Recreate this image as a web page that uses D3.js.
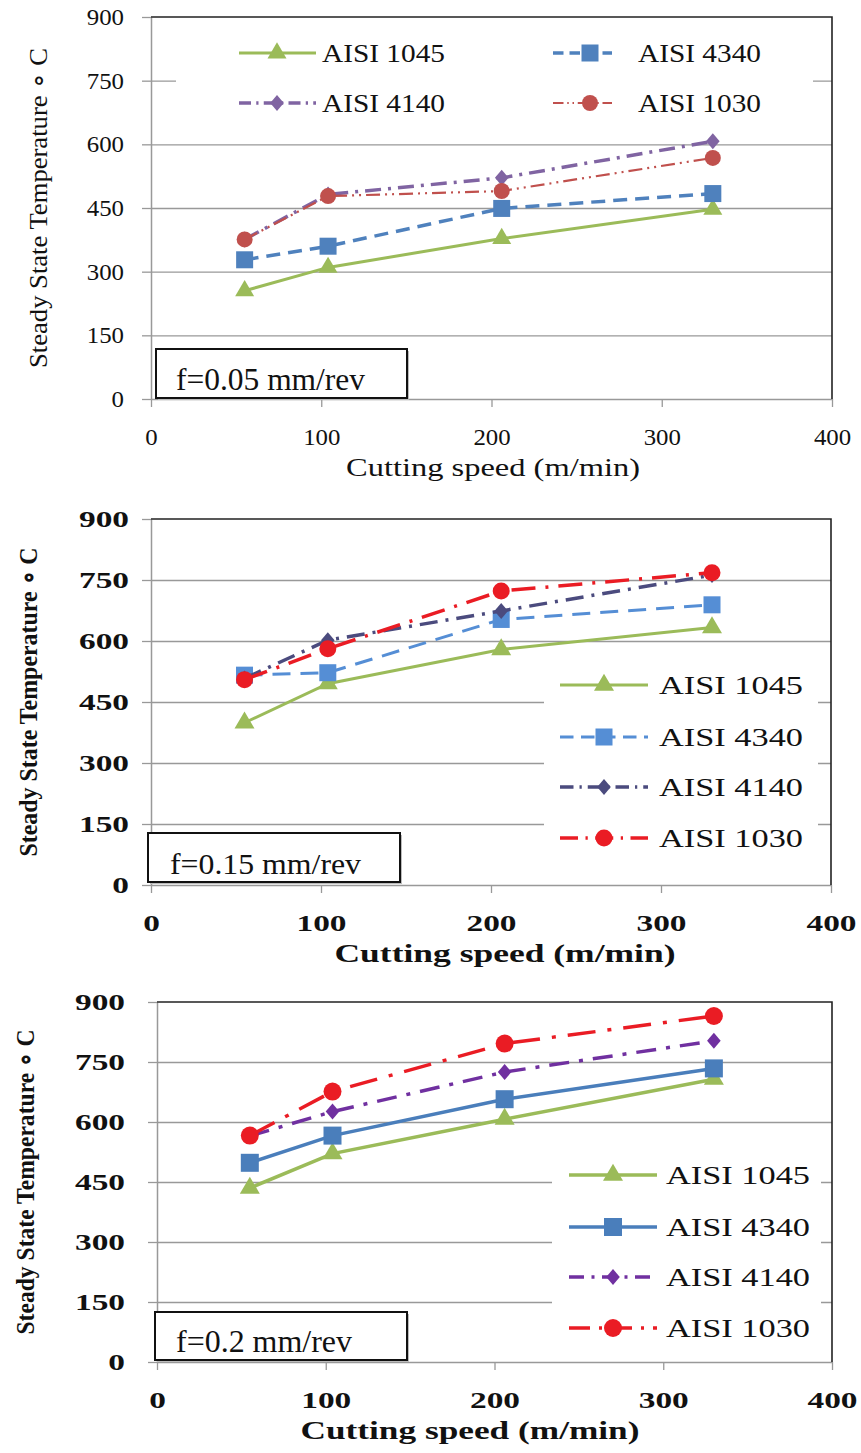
<!DOCTYPE html>
<html lang="en">
<head>
<meta charset="utf-8">
<script src="https://d3js.org/d3.v7.min.js"></script>
<style>
  body { margin: 0; background: #fff; }
  svg text { font-family: "Liberation Serif", "Times New Roman", serif; fill: #111; }
</style>
</head>
<body>
<div id="chart"></div>
<script>
// cutting speeds (m/min) where the temperatures were measured
var speeds = [55, 104, 206, 330];
var grades = ["AISI 1045", "AISI 4340", "AISI 4140", "AISI 1030"];
var xTicks = [0, 100, 200, 300, 400];
var yTicks = [0, 150, 300, 450, 600, 750, 900];
var feeds = ["f=0.05 mm/rev", "f=0.15 mm/rev", "f=0.2 mm/rev"];
var yTitle = "Steady State Temperature \u2218 C";
var xTitle = "Cutting speed (m/min)";

// steady state temperature, one row per grade (same order as grades)
var tempF005 = [
  [255, 310, 378, 447],
  [328, 360, 449, 484],
  [376, 482, 521, 607],
  [376, 478, 490, 568]
];
var tempF015 = [
  [399, 495, 579, 633],
  [516, 522, 653, 689],
  [508, 602, 674, 762],
  [505, 581, 723, 768]
];
var tempF02 = [
  [435, 521, 607, 707],
  [498, 566, 657, 734],
  [565, 626, 725, 803],
  [566, 676, 796, 865]
];

var symbols = ["triangle", "square", "diamond", "circle"];

var panels = [
  {
    data: tempF005, feed: feeds[0],
    left: 151, right: 832, top: 17, bottom: 399, sx: 1.08, weight: "normal",
    yLabelX: 124, yTitleX: 38, yTitleW: 320, xTitleX: 493, xTitleW: 294,
    colors: ["#9bbb59", "#4f81bd", "#8064a2", "#c0504d"],
    dashes: [null, "14,8", "16,7,3,7", "14,5,2,5,2,5"],
    widths: [3, 3.5, 3.5, 2.2],
    msize: [9.5, 8.5, 8, 8],
    legend: { bg: [176, 30, 637, 95], rows: [53, 103], textW: 123, fs: 26,
      cols: [{x0: 239, x1: 316, mx: 277, tx: 322}, {x0: 553, x1: 612, mx: 590, tx: 638}],
      grid: true },
    note: { box: [156, 349, 251, 49], tx: 176, ty: 390, tw: 189, fs: 32 }
  },
  {
    data: tempF015, feed: feeds[1],
    left: 151, right: 831, top: 519, bottom: 885, sx: 1.45, weight: "bold",
    yLabelX: 129, yTitleX: 28, yTitleW: 309, xTitleX: 505, xTitleW: 341,
    colors: ["#9bbb59", "#558ed5", "#4b4b7e", "#ea1c24"],
    dashes: [null, "18,10", "18,8,3,8", "24,10,3,10"],
    widths: [3, 3, 3.5, 3.5],
    msize: [10, 8.5, 8, 8.5],
    legend: { bg: [544, 662, 274, 200], rows: [685, 737, 787, 838], textW: 144, fs: 26,
      cols: [{x0: 560, x1: 648, mx: 604, tx: 659}], grid: false },
    note: { box: [148, 833, 252, 49], tx: 170, ty: 874, tw: 191, fs: 30 }
  },
  {
    data: tempF02, feed: feeds[2],
    left: 157, right: 832, top: 1002, bottom: 1362, sx: 1.45, weight: "bold",
    yLabelX: 125, yTitleX: 25, yTitleW: 305, xTitleX: 470, xTitleW: 339,
    colors: ["#9bbb59", "#4a7ebb", "#7030a0", "#ea1c24"],
    dashes: [null, null, "20,10,4,10", "28,12,4,12"],
    widths: [3.5, 3.5, 3.5, 3.5],
    msize: [10, 9, 8, 9],
    legend: { bg: [552, 1152, 269, 200], rows: [1175, 1227, 1277, 1328], textW: 144, fs: 26,
      cols: [{x0: 569, x1: 657, mx: 613, tx: 666}], grid: false },
    note: { box: [155, 1312, 252, 48], tx: 176, ty: 1352, tw: 176, fs: 32 }
  }
];

var svg = d3.select("#chart").append("svg")
  .attr("width", 861)
  .attr("height", 1453)
  .style("background", "#fff");

function stretch(sel, k) {
  sel.each(function() {
    var w = this.getComputedTextLength();
    d3.select(this).attr("textLength", w * k).attr("lengthAdjust", "spacingAndGlyphs");
  });
}

function drawMarker(g, type, s, color) {
  if (type === "diamond") {
    g.append("path")
      .attr("d", "M0," + (-s) + "L" + (s * 0.85) + ",0L0," + s + "L" + (-s * 0.85) + ",0Z")
      .attr("fill", color);
  } else if (type === "circle") {
    g.append("circle").attr("r", s).attr("fill", color);
  } else if (type === "square") {
    g.append("rect").attr("x", -s).attr("y", -s).attr("width", 2 * s).attr("height", 2 * s)
      .attr("fill", color);
  } else {
    // triangle, centred on its centroid
    var h = s * 1.7;
    g.append("path")
      .attr("d", "M0," + (-h * 2 / 3) + "L" + s + "," + (h / 3) + "L" + (-s) + "," + (h / 3) + "Z")
      .attr("fill", color);
  }
}

panels.forEach(function(p) {
  var x = d3.scaleLinear().domain([0, 400]).range([p.left, p.right]);
  var y = d3.scaleLinear().domain([0, 900]).range([p.bottom, p.top]);
  var g = svg.append("g");

  // horizontal gridlines
  g.append("g")
    .attr("transform", "translate(" + p.left + ",0)")
    .call(d3.axisLeft(y).tickValues(yTicks.slice(1, -1)).tickSize(-(p.right - p.left)).tickFormat(""))
    .call(function(a) {
      a.select(".domain").remove();
      a.selectAll("line").attr("stroke", "#999").attr("stroke-width", 1.3);
    });

  // y axis with labels
  var ya = g.append("g")
    .attr("transform", "translate(" + p.left + ",0)")
    .call(d3.axisLeft(y).tickValues(yTicks).tickSize(9).tickPadding(p.left - 9 - p.yLabelX).tickSizeOuter(0));
  ya.select(".domain").attr("stroke", "#999").attr("stroke-width", 1.5);
  ya.selectAll("line").attr("stroke", "#999").attr("stroke-width", 1.3);
  ya.selectAll("text")
    .attr("font-size", 23).attr("font-weight", p.weight)
    .attr("fill", "#111");
  stretch(ya.selectAll("text"), p.sx);

  // x axis with labels
  var xa = g.append("g")
    .attr("transform", "translate(0," + p.bottom + ")")
    .call(d3.axisBottom(x).tickValues(xTicks).tickSize(8).tickSizeOuter(0));
  xa.select(".domain").attr("stroke", "#999").attr("stroke-width", 1.5);
  xa.selectAll("line").attr("stroke", "#999").attr("stroke-width", 1.3);
  xa.selectAll("text")
    .attr("y", 46).attr("dy", null)
    .attr("font-size", 23).attr("font-weight", p.weight)
    .attr("fill", "#111");
  stretch(xa.selectAll("text"), p.sx);

  // top and right borders
  g.append("path")
    .attr("d", "M" + p.left + "," + p.top + "H" + p.right + "V" + p.bottom)
    .attr("fill", "none").attr("stroke", "#222").attr("stroke-width", 1.6);

  // series lines and markers
  var line = d3.line().x(function(d, i) { return x(speeds[i]); }).y(function(d) { return y(d); });
  p.data.forEach(function(vals, k) {
    g.append("path")
      .datum(vals)
      .attr("d", line)
      .attr("fill", "none")
      .attr("stroke", p.colors[k])
      .attr("stroke-width", p.widths[k])
      .attr("stroke-dasharray", p.dashes[k]);
    vals.forEach(function(v, i) {
      var m = g.append("g").attr("transform", "translate(" + x(speeds[i]) + "," + y(v) + ")");
      drawMarker(m, symbols[k], p.msize[k], p.colors[k]);
    });
  });

  // legend
  var L = p.legend;
  g.append("rect")
    .attr("x", L.bg[0]).attr("y", L.bg[1]).attr("width", L.bg[2]).attr("height", L.bg[3])
    .attr("fill", "#fff");
  grades.forEach(function(name, k) {
    var col = L.grid ? L.cols[k % 2] : L.cols[0];
    var ry = L.grid ? L.rows[Math.floor(k / 2)] : L.rows[k];
    g.append("line")
      .attr("x1", col.x0).attr("x2", col.x1).attr("y1", ry).attr("y2", ry)
      .attr("stroke", p.colors[k]).attr("stroke-width", p.widths[k])
      .attr("stroke-dasharray", p.dashes[k] ? p.dashes[k].split(",").map(function(v) { return v * 0.75; }).join(",") : null);
    var m = g.append("g").attr("transform", "translate(" + col.mx + "," + ry + ")");
    drawMarker(m, symbols[k], p.msize[k], p.colors[k]);
    g.append("text")
      .attr("x", col.tx).attr("y", ry).attr("dy", "0.35em")
      .attr("font-size", L.fs)
      .attr("textLength", L.textW).attr("lengthAdjust", "spacingAndGlyphs")
      .text(name);
  });

  // feed annotation box
  var N = p.note;
  g.append("rect")
    .attr("x", N.box[0] + 2).attr("y", N.box[1] + 2).attr("width", N.box[2]).attr("height", N.box[3])
    .attr("fill", "#bbb");
  g.append("rect")
    .attr("x", N.box[0]).attr("y", N.box[1]).attr("width", N.box[2]).attr("height", N.box[3])
    .attr("fill", "#fff").attr("stroke", "#111").attr("stroke-width", 2);
  g.append("text")
    .attr("x", N.tx).attr("y", N.ty)
    .attr("font-size", N.fs)
    .attr("textLength", N.tw).attr("lengthAdjust", "spacingAndGlyphs")
    .text(p.feed);

  // axis titles
  var cy = (p.top + p.bottom) / 2;
  g.append("text")
    .attr("transform", "translate(" + p.yTitleX + "," + cy + ") rotate(-90)")
    .attr("text-anchor", "middle").attr("dy", "0.35em")
    .attr("font-size", 26).attr("font-weight", p.weight)
    .attr("textLength", p.yTitleW).attr("lengthAdjust", "spacingAndGlyphs")
    .text(yTitle);
  g.append("text")
    .attr("x", p.xTitleX).attr("y", p.bottom + 68).attr("dy", "0.35em")
    .attr("text-anchor", "middle")
    .attr("font-size", 26).attr("font-weight", p.weight)
    .attr("textLength", p.xTitleW).attr("lengthAdjust", "spacingAndGlyphs")
    .text(xTitle);
});
</script>
</body>
</html>
